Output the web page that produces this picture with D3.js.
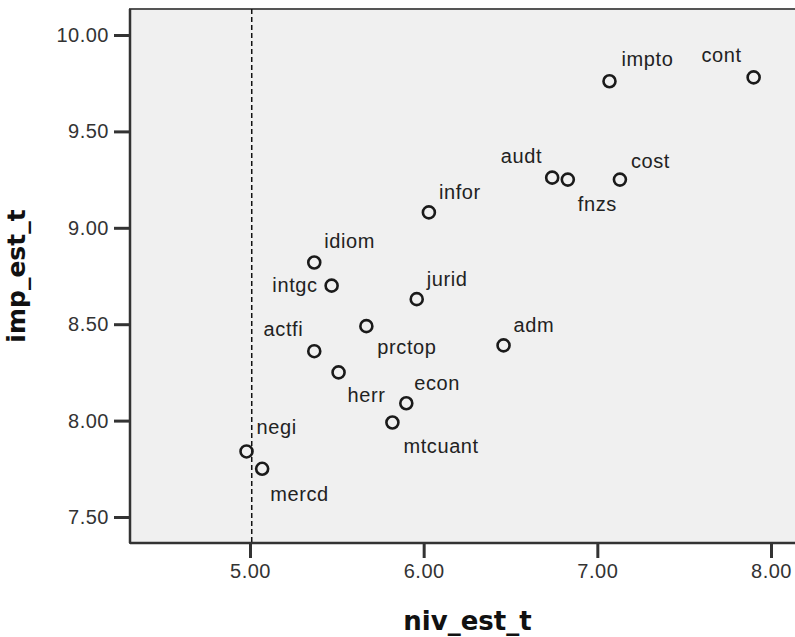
<!DOCTYPE html>
<html>
<head>
<meta charset="utf-8">
<script src="https://cdn.jsdelivr.net/npm/d3@7"></script>
<style>
  body { margin: 0; background: #fff; }
  svg { display: block; }
</style>
</head>
<body>
<svg id="chart" width="795" height="637"></svg>
<script>
// variables and their scores
const names = ["impto", "cont", "audt", "fnzs", "cost", "infor", "idiom", "intgc", "jurid",
  "prctop", "actfi", "herr", "econ", "mtcuant", "adm", "negi", "mercd"];
const nivEst = [7.07, 7.90, 6.74, 6.83, 7.13, 6.03, 5.37, 5.47, 5.96,
  5.67, 5.37, 5.51, 5.90, 5.82, 6.46, 4.98, 5.07];
const impEst = [9.76, 9.78, 9.26, 9.25, 9.25, 9.08, 8.82, 8.70, 8.63,
  8.49, 8.36, 8.25, 8.09, 7.99, 8.39, 7.84, 7.75];
const xTicks = [5, 6, 7, 8];
const yTicks = [7.5, 8, 8.5, 9, 9.5, 10];
const refLineX = 5.01;

// where each label sits relative to its marker
const labelPlace = {
  impto: [12, -15, "start"], cont: [-12, -15, "end"], audt: [-10, -15, "end"],
  fnzs: [10, 31, "start"], cost: [11, -12, "start"], infor: [10, -13, "start"],
  idiom: [10, -15, "start"], intgc: [-14, 6, "end"], jurid: [10, -13, "start"],
  prctop: [11, 28, "start"], actfi: [-11, -15, "end"], herr: [9, 30, "start"],
  econ: [8, -13, "start"], mtcuant: [11, 30, "start"], adm: [10, -13, "start"],
  negi: [10, -17, "start"], mercd: [8, 32, "start"]
};

const points = names.map((n, i) => ({ name: n, x: nivEst[i], y: impEst[i] }));

const svg = d3.select("#chart");
const plotLeft = 130, plotRight = 805, plotTop = 9, plotBottom = 543;

const x = d3.scaleLinear().domain([5, 8]).range([250, 771]);
const y = d3.scaleLinear().domain([7.5, 10]).range([517, 35]);

svg.append("rect")
  .attr("x", plotLeft).attr("y", plotTop)
  .attr("width", plotRight - plotLeft).attr("height", plotBottom - plotTop)
  .attr("fill", "#f0f0f0")
  .attr("stroke", "#555").attr("stroke-width", 2);

// reference line
svg.append("line")
  .attr("x1", x(refLineX)).attr("x2", x(refLineX))
  .attr("y1", plotTop).attr("y2", plotBottom)
  .attr("stroke", "#111").attr("stroke-width", 1.5)
  .attr("stroke-dasharray", "5,3");

const tickFont = "'Liberation Sans', Arial, sans-serif";

// y axis
const yAxis = svg.append("g")
  .attr("transform", `translate(${plotLeft},0)`)
  .call(d3.axisLeft(y).tickValues(yTicks).tickFormat(d3.format(".2f"))
    .tickSize(16).tickPadding(5));
yAxis.select(".domain").attr("stroke", "#333").attr("stroke-width", 2.5)
  .attr("d", `M0,${plotTop}V${plotBottom}`);
yAxis.selectAll(".tick line").attr("stroke", "#333").attr("stroke-width", 3);
yAxis.selectAll(".tick text")
  .attr("font-family", tickFont).attr("font-size", 20).attr("fill", "#333")
  .attr("letter-spacing", 0.5);

// x axis
const xAxis = svg.append("g")
  .attr("transform", `translate(0,${plotBottom})`)
  .call(d3.axisBottom(x).tickValues(xTicks).tickFormat(d3.format(".2f"))
    .tickSize(15).tickPadding(6));
xAxis.select(".domain").attr("stroke", "#333").attr("stroke-width", 2.5)
  .attr("d", `M${plotLeft},0H${plotRight}`);
xAxis.selectAll(".tick line").attr("stroke", "#333").attr("stroke-width", 3);
xAxis.selectAll(".tick text")
  .attr("font-family", tickFont).attr("font-size", 20).attr("fill", "#333")
  .attr("letter-spacing", 0.5);

// markers
svg.append("g").selectAll("circle")
  .data(points).join("circle")
  .attr("cx", d => x(d.x)).attr("cy", d => y(d.y))
  .attr("r", 6)
  .attr("fill", "none")
  .attr("stroke", "#1a1a1a").attr("stroke-width", 2.6);

// point labels
svg.append("g").selectAll("text")
  .data(points).join("text")
  .attr("x", d => x(d.x) + labelPlace[d.name][0])
  .attr("y", d => y(d.y) + labelPlace[d.name][1])
  .attr("text-anchor", d => labelPlace[d.name][2])
  .attr("font-family", tickFont).attr("font-size", 20)
  .attr("letter-spacing", 0.6)
  .attr("fill", "#222")
  .text(d => d.name);

// axis titles
const titleFont = "'DejaVu Sans', Verdana, sans-serif";
svg.append("text")
  .attr("x", (plotLeft + plotRight) / 2).attr("y", 630)
  .attr("text-anchor", "middle")
  .attr("font-family", titleFont).attr("font-weight", "bold").attr("font-size", 26)
  .attr("fill", "#111")
  .text("niv_est_t");

svg.append("text")
  .attr("transform", `translate(25,${(plotTop + plotBottom) / 2}) rotate(-90)`)
  .attr("text-anchor", "middle")
  .attr("font-family", titleFont).attr("font-weight", "bold").attr("font-size", 25)
  .attr("fill", "#111")
  .text("imp_est_t");
</script>
</body>
</html>
